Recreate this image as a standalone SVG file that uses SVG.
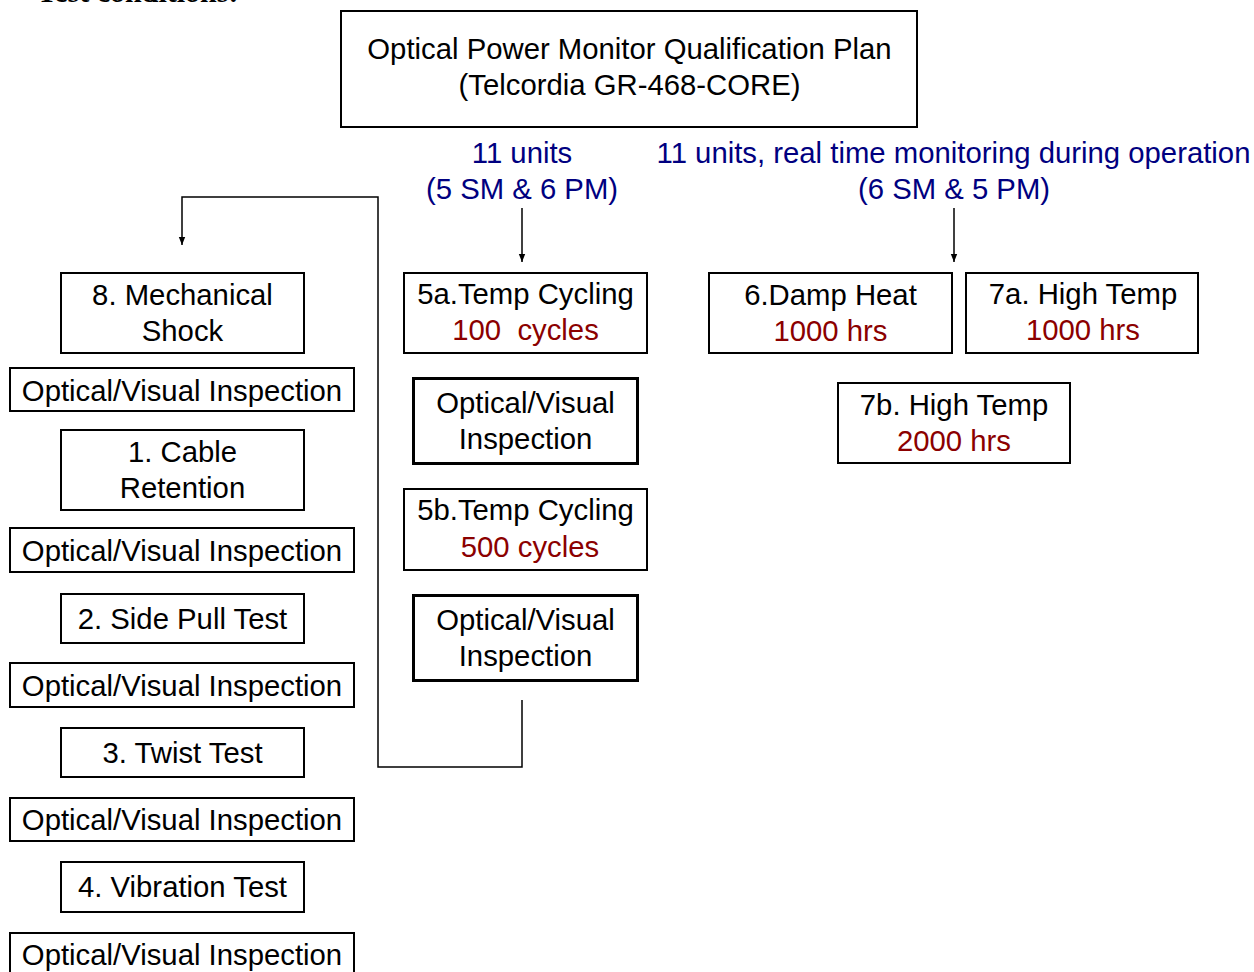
<svg xmlns="http://www.w3.org/2000/svg" width="1254" height="972" viewBox="0 0 1254 972">
<style>
  text { font-family: "Liberation Sans", Arial, sans-serif; font-size: 29.3px; text-anchor: middle; fill: #000; }
  .box { fill: #fff; stroke: #000; stroke-width: 2; }
  .thick { fill: #fff; stroke: #000; stroke-width: 3; }
  .blue { fill: #000080; }
  .red { fill: #8B0000; }
  .conn { fill: none; stroke: #000; stroke-width: 1.5; }
  .hdr { font-family: "Liberation Serif", "Times New Roman", serif; font-weight: bold; font-size: 30px; text-anchor: start; }
</style>
<defs>
  <marker id="arr" viewBox="0 0 10 10" refX="10" refY="5" markerWidth="9" markerHeight="8" markerUnits="userSpaceOnUse" orient="auto">
    <path d="M0,1 L10,5 L0,9 Z" fill="#000"/>
  </marker>
</defs>
<rect width="1254" height="972" fill="#fff"/>
<text class="hdr" x="37" y="2">Test conditions:</text>

<g id="title">
  <rect class="box" x="341" y="11" width="576" height="116"/>
  <text x="629.5" y="59">Optical Power Monitor Qualification Plan</text>
  <text x="629.5" y="95">(Telcordia GR-468-CORE)</text>
</g>

<g id="label-left">
  <text class="blue" x="522" y="163">11 units</text>
  <text class="blue" x="522" y="199">(5 SM &amp; 6 PM)</text>
</g>
<g id="label-right">
  <text class="blue" x="953.5" y="163">11 units, real time monitoring during operation</text>
  <text class="blue" x="954" y="199">(6 SM &amp; 5 PM)</text>
</g>

<g id="connectors">
  <line class="conn" x1="522" y1="208" x2="522" y2="262" marker-end="url(#arr)"/>
  <line class="conn" x1="954" y1="208" x2="954" y2="262" marker-end="url(#arr)"/>
  <path class="conn" d="M522,700 V767 H378 V197 H182 V245" marker-end="url(#arr)"/>
</g>

<g id="n8">
  <rect class="box" x="61" y="273" width="243" height="80"/>
  <text x="182.5" y="305">8. Mechanical</text>
  <text x="182.5" y="341">Shock</text>
</g>
<g id="ovi1">
  <rect class="box" x="10" y="368" width="344" height="43"/>
  <text x="182" y="401">Optical/Visual Inspection</text>
</g>
<g id="n1">
  <rect class="box" x="61" y="430" width="243" height="80"/>
  <text x="182.5" y="462">1. Cable</text>
  <text x="182.5" y="498">Retention</text>
</g>
<g id="ovi2">
  <rect class="box" x="10" y="528" width="344" height="44"/>
  <text x="182" y="561">Optical/Visual Inspection</text>
</g>
<g id="n2">
  <rect class="box" x="61" y="594" width="243" height="49"/>
  <text x="182.5" y="629">2. Side Pull Test</text>
</g>
<g id="ovi3">
  <rect class="box" x="10" y="663" width="344" height="44"/>
  <text x="182" y="696">Optical/Visual Inspection</text>
</g>
<g id="n3">
  <rect class="box" x="61" y="728" width="243" height="49"/>
  <text x="182.5" y="763">3. Twist Test</text>
</g>
<g id="ovi4">
  <rect class="box" x="10" y="798" width="344" height="43"/>
  <text x="182" y="830">Optical/Visual Inspection</text>
</g>
<g id="n4">
  <rect class="box" x="61" y="862" width="243" height="50"/>
  <text x="182.5" y="897">4. Vibration Test</text>
</g>
<g id="ovi5">
  <rect class="box" x="10" y="933" width="344" height="44"/>
  <text x="182" y="965">Optical/Visual Inspection</text>
</g>

<g id="n5a">
  <rect class="box" x="404" y="273" width="243" height="80"/>
  <text x="525.5" y="304">5a.Temp Cycling</text>
  <text class="red" x="525.5" y="340" xml:space="preserve">100  cycles</text>
</g>
<g id="ovi6">
  <rect class="thick" x="413.5" y="378.5" width="224" height="85"/>
  <text x="525.5" y="413">Optical/Visual</text>
  <text x="525.5" y="449">Inspection</text>
</g>
<g id="n5b">
  <rect class="box" x="404" y="489" width="243" height="81"/>
  <text x="525.5" y="520">5b.Temp Cycling</text>
  <text class="red" x="530" y="557">500 cycles</text>
</g>
<g id="ovi7">
  <rect class="thick" x="413.5" y="595.5" width="224" height="85"/>
  <text x="525.5" y="630">Optical/Visual</text>
  <text x="525.5" y="666">Inspection</text>
</g>

<g id="n6">
  <rect class="box" x="709" y="273" width="243" height="80"/>
  <text x="830.5" y="305">6.Damp Heat</text>
  <text class="red" x="830.5" y="341">1000 hrs</text>
</g>
<g id="n7a">
  <rect class="box" x="966" y="273" width="232" height="80"/>
  <text x="1083" y="304">7a. High Temp</text>
  <text class="red" x="1083" y="340">1000 hrs</text>
</g>
<g id="n7b">
  <rect class="box" x="838" y="383" width="232" height="80"/>
  <text x="954" y="415">7b. High Temp</text>
  <text class="red" x="954" y="451">2000 hrs</text>
</g>
</svg>
